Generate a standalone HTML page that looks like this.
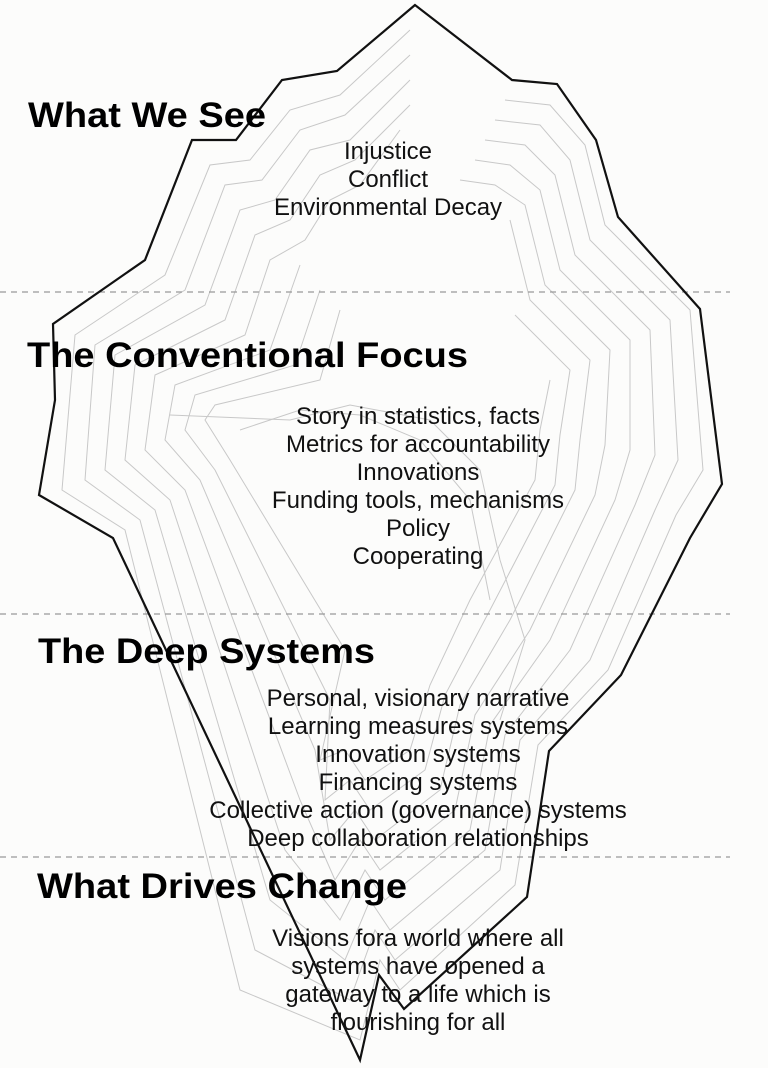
<!DOCTYPE html>
<html><head><meta charset="utf-8"><style>
html,body{margin:0;padding:0;background:#fcfcfb;}
svg{display:block}
.h{font-family:"Liberation Sans",Arial,sans-serif;font-weight:bold;font-size:35px;fill:#000}
.t{font-family:"Liberation Sans",Arial,sans-serif;font-size:24px;fill:#111;text-anchor:middle}
</style></head><body>
<svg width="768" height="1068" viewBox="0 0 768 1068" xmlns="http://www.w3.org/2000/svg">
<g fill="none" stroke="#c8c8c8" stroke-width="1">
<polyline points="410,30 340,95 290,110 250,160 210,165 165,275 75,335 62,490 125,530 240,990 360,1040 380,960 400,990 515,885 538,745 608,670 676,515 703,470 690,310 605,225 585,145 550,105 505,100"/>
<polyline points="410,55 345,115 300,130 262,180 225,185 185,290 95,345 85,480 140,520 255,950 350,1000 375,930 395,960 500,870 520,740 590,660 655,510 678,460 670,320 590,240 570,160 540,125 495,120"/>
<polyline points="410,80 350,140 310,150 275,200 240,210 205,305 115,355 105,470 155,510 270,900 345,960 370,900 390,930 485,850 505,735 570,650 635,505 655,455 650,330 575,255 555,175 525,145 485,140"/>
<polyline points="410,105 355,160 320,175 290,220 255,235 225,320 135,365 125,460 170,500 285,850 340,920 365,870 385,900 470,830 490,725 550,640 615,500 630,450 630,340 560,270 540,190 510,165 475,160"/>
<polyline points="400,130 360,185 330,200 305,240 270,260 245,335 155,375 145,450 185,490 300,800 335,880 360,840 380,870 455,810 475,715 530,630 595,495 605,445 610,350 545,285 525,205 495,185 460,180"/>
<polyline points="300,265 270,350 175,385 165,440 200,480 315,750 330,840 355,810 375,840 440,790 460,705 510,620 575,490 580,440 590,360 530,300 510,220"/>
<polyline points="320,290 295,365 195,395 185,430 215,470 330,700 325,800 350,780 370,810 425,770 445,695 490,610 555,485 560,435 570,370 515,315"/>
<polyline points="340,310 320,380 215,405 205,420 230,460 345,650 320,760 345,750 365,780 410,750 430,685 470,600 535,480 540,430 550,380"/>
<polyline points="170,415 290,420 350,405 430,420 480,470 500,560 525,640 500,720"/>
<polyline points="240,430 300,410 360,415 420,440 470,500 490,600"/>
</g>
<g stroke="#999" stroke-width="1.3" stroke-dasharray="6,5">
<line x1="0" y1="292" x2="730" y2="292"/>
<line x1="0" y1="614" x2="730" y2="614"/>
<line x1="0" y1="857" x2="730" y2="857"/>
</g>
<polygon fill="none" stroke="#111" stroke-width="2.2" stroke-linejoin="miter" points="415,5 337,71 282,80 236,140 192,140 145,260 53,324 55,400 39,495 113,538 360,1060 379,975 404,1009 527,897 549,751 621,675 690,538 722,484 700,309 618,217 596,140 557,84 512,80"/>
<text class="h" x="28" y="127" textLength="238" lengthAdjust="spacingAndGlyphs">What We See</text>
<text class="h" x="27" y="367" textLength="441" lengthAdjust="spacingAndGlyphs">The Conventional Focus</text>
<text class="h" x="38" y="663" textLength="337" lengthAdjust="spacingAndGlyphs">The Deep Systems</text>
<text class="h" x="37" y="898" textLength="370" lengthAdjust="spacingAndGlyphs">What Drives Change</text>
<text class="t" x="388" y="159">Injustice</text>
<text class="t" x="388" y="187">Conflict</text>
<text class="t" x="388" y="215">Environmental Decay</text>
<text class="t" x="418" y="424">Story in statistics, facts</text>
<text class="t" x="418" y="452">Metrics for accountability</text>
<text class="t" x="418" y="480">Innovations</text>
<text class="t" x="418" y="508">Funding tools, mechanisms</text>
<text class="t" x="418" y="536">Policy</text>
<text class="t" x="418" y="564">Cooperating</text>
<text class="t" x="418" y="706">Personal, visionary narrative</text>
<text class="t" x="418" y="734">Learning measures systems</text>
<text class="t" x="418" y="762">Innovation systems</text>
<text class="t" x="418" y="790">Financing systems</text>
<text class="t" x="418" y="818">Collective action (governance) systems</text>
<text class="t" x="418" y="846">Deep collaboration relationships</text>
<text class="t" x="418" y="946">Visions fora world where all</text>
<text class="t" x="418" y="974">systems have opened a</text>
<text class="t" x="418" y="1002">gateway to a life which is</text>
<text class="t" x="418" y="1030">flourishing for all</text>
</svg>
</body></html>
